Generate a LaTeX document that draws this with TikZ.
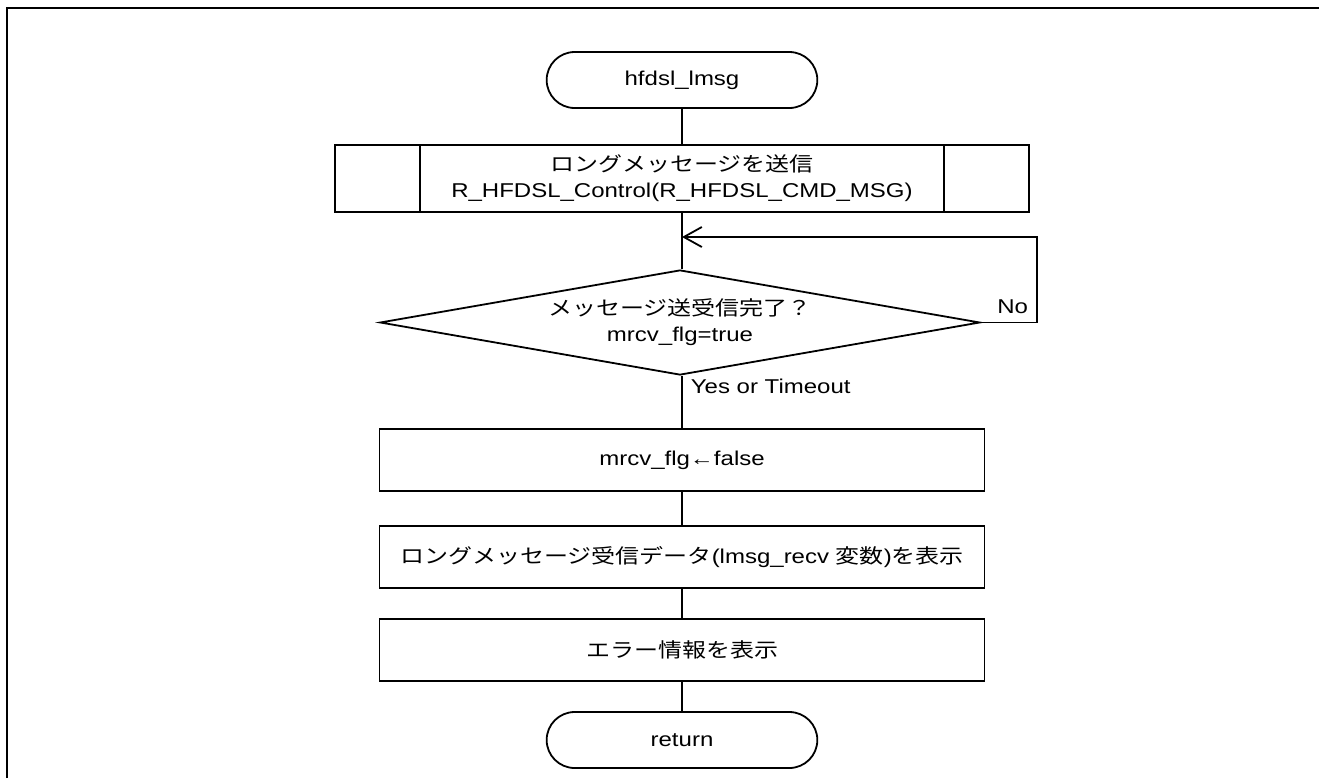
\documentclass[tikz,border=0pt]{standalone}
\usepackage{fontspec}
\setmainfont{Liberation Sans}[FakeStretch=1.2]
\newfontfamily\jp{Noto Sans CJK JP}[FakeStretch=1.2]
\usetikzlibrary{shapes.misc,shapes.geometric,arrows.meta}

\begin{document}
\begin{tikzpicture}[x=0.5pt,y=-0.5pt,line width=0.9pt,font=\fontsize{10pt}{13pt}\selectfont,
	term/.style ={rounded rectangle, draw, minimum width=142pt, minimum height=28pt},
	block/.style ={rectangle, draw, align=center, minimum width=302.5pt, minimum height=31pt},
	sub/.style ={rectangle, draw, align=center, minimum width=347pt, minimum height=33.5pt},
	cond/.style ={diamond, draw, align=center, aspect=5.7, inner sep=0pt, minimum width=300pt, minimum height=52.5pt},
	arr/.style ={-{Straight Barb[length=9pt,width=10pt]}}]
		\useasboundingbox (0,0) rectangle (1319,778);
		\draw[line width=1pt] (7,778) -- (7,7.5) -- (1319,7.5);
		\node[term] (n1) at (682,80) {hfdsl\_lmsg};
		\node[sub] (n2) at (682,178.5) {{\jp ロングメッセージを送信}\\R\_HFDSL\_Control(R\_HFDSL\_CMD\_MSG)};
		\node[cond] (n3) at (680,322.5) {{\jp メッセージ送受信完了？}\\mrcv\_flg=true};
		\coordinate (m1) at (682,237);
		\node[block] (n4) at (682,460) {mrcv\_flg←false};
		\node[block] (n5) at (682,557) {{\jp ロングメッセージ受信データ}(lmsg\_recv {\jp 変数})\jp を表示};
		\node[block] (n6) at (682,650) {\jp エラー情報を表示};
		\node[term] (n7) at (682,740) {return};
		\draw ([xshift=43pt]n2.north west) -- ([xshift=43pt]n2.south west);
		\draw ([xshift=-43pt]n2.north east) -- ([xshift=-43pt]n2.south east);
		\draw (n1) -- (n2);
		\draw (n2) -- (n2 |- n3.north);
		\draw[arr] (n3.east) -- ++(56,0) node[above left,inner sep=4pt] {No} |- (m1);
		\draw (n2 |- n3.south) node[below right,inner xsep=4pt,inner ysep=1pt] {Yes or Timeout} -- (n4);
		\draw (n4) -- (n5);
		\draw (n5) -- (n6);
		\draw (n6) -- (n7);
	\end{tikzpicture}
\end{document}
